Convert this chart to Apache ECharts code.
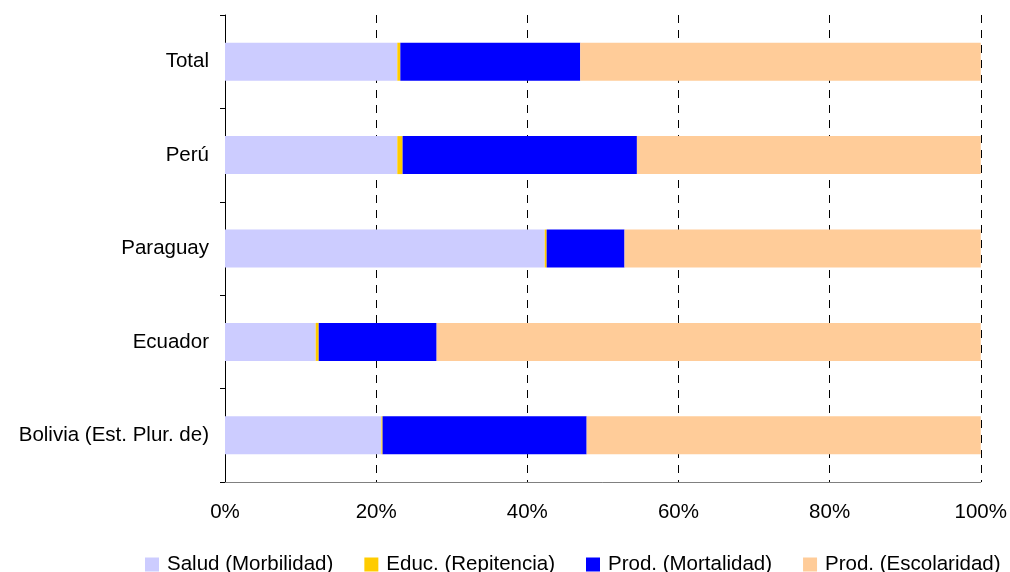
<!DOCTYPE html>
<html>
<head>
<meta charset="utf-8">
<script src="https://cdn.jsdelivr.net/npm/echarts@6/dist/echarts.min.js"></script>
<style>
  html, body { margin: 0; padding: 0; background: #ffffff; }
  #chart { width: 1010px; height: 572px; }
</style>
</head>
<body>
<div id="chart"></div>
<script>
// Countries, bottom to top on the category axis
const countries = ['Bolivia (Est. Plur. de)', 'Ecuador', 'Paraguay', 'Perú', 'Total'];

// Share of each cost component (%)
const saludMorbilidad = [20.7, 12.0, 42.3, 22.8, 22.8];
const educRepitencia = [0.15, 0.4, 0.26, 0.7, 0.4];
const prodMortalidad = [27.0, 15.6, 10.3, 31.0, 23.8];
const prodEscolaridad = [52.15, 72.0, 47.14, 45.5, 53.0];

const seriesNames = ['Salud (Morbilidad)', 'Educ. (Repitencia)', 'Prod. (Mortalidad)', 'Prod. (Escolaridad)'];
const seriesColors = ['#CCCCFF', '#FFCC00', '#0000FF', '#FFCC99'];
const seriesValues = [saludMorbilidad, educRepitencia, prodMortalidad, prodEscolaridad];

const xTicks = [0, 20, 40, 60, 80, 100];

const font = 'Liberation Sans, Arial, sans-serif';

const chart = echarts.init(document.getElementById('chart'), null, { renderer: 'canvas' });

chart.setOption({
  animation: false,
  backgroundColor: '#ffffff',
  grid: { left: 225, right: 29, top: 15, bottom: 90, containLabel: false },
  legend: {
    left: 145,
    right: 0,
    top: 554,
    padding: 0,
    itemWidth: 14,
    itemHeight: 14,
    itemGap: 31,
    icon: 'rect',
    textStyle: { fontFamily: font, fontSize: 20.5, color: '#000000', padding: [0, 0, 0, 3] },
    data: seriesNames
  },
  xAxis: {
    type: 'value',
    min: xTicks[0],
    max: xTicks[xTicks.length - 1],
    interval: 20,
    axisLine: { show: true, lineStyle: { color: '#808080', width: 1 } },
    axisTick: { show: false },
    axisLabel: {
      margin: 20,
      fontFamily: font,
      fontSize: 20.5,
      color: '#000000',
      formatter: v => v + '%'
    },
    splitLine: {
      show: true,
      lineStyle: { color: '#000000', width: 1, type: [8, 7] }
    }
  },
  yAxis: {
    type: 'category',
    data: countries,
    axisLine: { show: true, lineStyle: { color: '#000000', width: 1 } },
    axisTick: { show: true, inside: false, length: 5, lineStyle: { color: '#000000' } },
    axisLabel: { margin: 16, fontFamily: font, fontSize: 20.5, color: '#000000' },
    splitLine: { show: false }
  },
  series: seriesNames.map((name, i) => ({
    name: name,
    type: 'bar',
    stack: 'total',
    barWidth: 38,
    itemStyle: { color: seriesColors[i] },
    data: seriesValues[i]
  }))
});
</script>
</body>
</html>
